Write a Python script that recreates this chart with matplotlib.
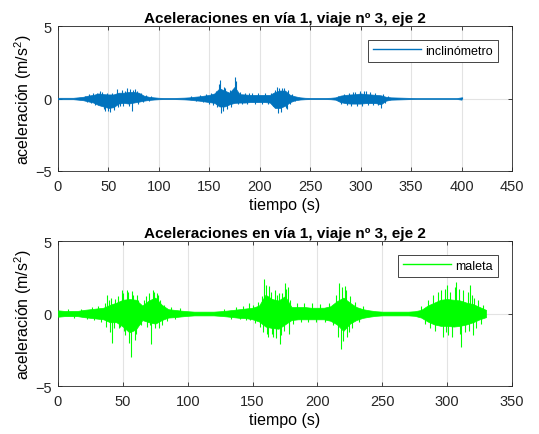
import numpy as np
import matplotlib
matplotlib.use('Agg')
import matplotlib.pyplot as plt
from matplotlib.lines import Line2D

plt.rcParams['font.family'] = ['Liberation Sans', 'DejaVu Sans']
plt.rcParams['mathtext.fontset'] = 'custom'
plt.rcParams['mathtext.rm'] = 'Liberation Sans'

TITLE = 'Aceleraciones en vía 1, viaje nº 3, eje 2'

# inclinometro: envelope every 5 s (upper / lower)
incTime = np.arange(0, 405, 5)
incHi = [0.05, 0.05, 0.05, 0.05, 0.08, 0.12, 0.20, 0.25, 0.35, 0.30,
         0.28, 0.28, 0.40, 0.40, 0.45, 0.45, 0.40, 0.20, 0.12, 0.08,
         0.05, 0.04, 0.04, 0.04, 0.05, 0.06, 0.08, 0.12, 0.15, 0.20,
         0.25, 0.35, 0.70, 0.55, 0.40, 0.80, 0.30, 0.28, 0.25, 0.25,
         0.25, 0.25, 0.25, 0.45, 0.55, 0.55, 0.25, 0.15, 0.08, 0.05,
         0.04, 0.04, 0.04, 0.04, 0.05, 0.08, 0.20, 0.25, 0.28, 0.30,
         0.35, 0.30, 0.28, 0.25, 0.22, 0.12, 0.08, 0.07, 0.06, 0.05,
         0.04, 0.03, 0.03, 0.03, 0.03, 0.03, 0.03, 0.03, 0.03, 0.03,
         0.08]
incLo = [-0.05, -0.05, -0.05, -0.05, -0.08, -0.12, -0.20, -0.28, -0.45, -0.55,
         -0.65, -0.60, -0.35, -0.30, -0.35, -0.28, -0.22, -0.15, -0.10, -0.07,
         -0.05, -0.04, -0.04, -0.04, -0.05, -0.06, -0.08, -0.12, -0.15, -0.20,
         -0.25, -0.30, -0.55, -0.55, -0.40, -0.30, -0.28, -0.28, -0.25, -0.25,
         -0.25, -0.25, -0.28, -0.65, -0.65, -0.50, -0.25, -0.12, -0.07, -0.05,
         -0.04, -0.04, -0.04, -0.04, -0.05, -0.08, -0.25, -0.32, -0.35, -0.35,
         -0.35, -0.32, -0.32, -0.32, -0.40, -0.15, -0.08, -0.07, -0.06, -0.05,
         -0.04, -0.03, -0.03, -0.03, -0.03, -0.03, -0.03, -0.03, -0.03, -0.03,
         -0.08]
# single peaks sticking out of the envelope (time, value)
incSpikeT = [27, 29, 31, 33, 35, 37, 39, 42, 44, 46, 47, 49, 50, 52, 54, 56,
             58, 59, 61, 63, 64, 66, 68, 70, 71, 73, 74, 76, 78, 79, 82, 84,
             87, 90, 92,
             132, 137, 141, 144, 147, 150, 152, 154, 157, 158, 160, 161, 162,
             164, 165, 166, 168, 170, 171, 173, 175, 176, 178, 180, 182, 185,
             187, 189, 192, 195, 198, 202, 205, 208, 211, 213, 215, 217, 218,
             219, 221, 222, 224, 226, 227, 228, 230, 232, 235,
             278, 281, 283, 286, 288, 290, 292, 294, 296, 299, 301, 303, 305,
             307, 309, 312, 314, 317, 320, 322, 324, 327, 400]
incSpikeV = [0.2, -0.22, 0.3, -0.3, 0.35, -0.45, 0.4, 0.55, 0.45, -0.75, -0.85,
             0.35, -0.85, -0.9, 0.4, -0.8, 0.65, -0.6, -0.5, 0.6, -0.5, 0.55,
             0.7, -0.5, 0.65, -0.87, 0.6, 0.65, 0.55, -0.4, 0.35, -0.25,
             0.25, -0.15, 0.15,
             0.15, -0.2, 0.22, -0.25, 0.3, -0.35, 0.4, -0.45, 0.55, -0.6, 1.0,
             1.3, -1.0, -0.85, 0.8, 0.75, -0.75, 0.6, -0.6, 0.5, 1.45, 1.2,
             -0.4, 0.45, -0.4, 0.35, -0.4, 0.4, 0.38, -0.35, 0.4, -0.35, 0.38,
             -0.35, 0.4, -0.5, 0.6, 0.8, -1.0, 0.75, -0.95, 0.7, 0.75, -0.65,
             -0.7, 0.6, -0.4, 0.3, -0.2,
             0.2, -0.35, 0.3, -0.45, 0.35, -0.5, 0.45, 0.45, -0.5, 0.55, -0.55,
             0.5, 0.5, -0.45, 0.42, -0.45, 0.35, -0.45, -0.65, 0.3, -0.3, 0.15,
             0.12]

# maleta: envelope every 5 s
malTime = np.arange(0, 335, 5)
malHi = [0.22, 0.18, 0.18, 0.18, 0.25, 0.30, 0.35, 0.40, 0.60, 0.75,
         0.95, 1.00, 0.95, 0.55, 0.90, 1.10, 0.60, 0.30, 0.25, 0.20,
         0.16, 0.13, 0.13, 0.13, 0.13, 0.16, 0.20, 0.25, 0.30, 0.35,
         0.40, 0.55, 1.30, 1.00, 0.90, 1.20, 0.45, 0.45, 0.45, 0.40,
         0.40, 0.40, 0.50, 0.85, 1.10, 0.75, 0.45, 0.30, 0.22, 0.16,
         0.13, 0.13, 0.13, 0.13, 0.13, 0.16, 0.25, 0.55, 0.75, 0.95,
         1.00, 0.95, 0.90, 0.75, 0.65, 0.45, 0.25]
malLo = [-0.22, -0.18, -0.18, -0.18, -0.25, -0.30, -0.35, -0.40, -0.60, -0.60,
         -0.90, -1.30, -1.10, -0.45, -0.60, -0.70, -0.45, -0.28, -0.25, -0.20,
         -0.16, -0.13, -0.13, -0.13, -0.13, -0.16, -0.20, -0.25, -0.30, -0.32,
         -0.40, -0.55, -0.90, -1.00, -1.05, -0.75, -0.45, -0.40, -0.40, -0.40,
         -0.40, -0.40, -0.50, -0.75, -1.20, -0.70, -0.45, -0.30, -0.22, -0.16,
         -0.13, -0.13, -0.13, -0.13, -0.13, -0.16, -0.28, -0.55, -0.75, -0.85,
         -0.85, -0.90, -0.85, -0.75, -0.60, -0.40, -0.25]
malSpikeT = [8, 12, 18, 22, 26, 28, 31, 33, 36, 37, 38, 39, 40, 41, 42, 43,
             44, 46, 47, 48, 49, 50, 51, 52, 53, 54, 55, 56, 57, 58, 59, 60,
             61, 62, 63, 64, 66, 68, 69, 70, 71, 72, 73, 74, 75, 76, 77, 78,
             79, 80, 82, 84, 87, 90, 94,
             128, 133, 137, 140, 143, 145, 147, 148, 150, 152, 154, 156, 157,
             158, 159, 160, 161, 162, 163, 164, 165, 166, 167, 168, 169, 170,
             171, 172, 173, 174, 175, 176, 177, 178, 179, 181, 184, 187, 190,
             193, 196, 199, 202, 206, 209, 212, 214, 216, 217, 218, 219, 220,
             221, 222, 223, 224, 225, 227, 229, 232, 235,
             280, 283, 285, 287, 289, 291, 293, 295, 297, 298, 299, 300, 301,
             302, 304, 306, 307, 309, 310, 311, 312, 314, 316, 317, 318, 319,
             320, 321, 322, 324, 326, 328]
malSpikeV = [0.3, -0.3, 0.3, -0.35, 0.45, -0.45, 0.55, -0.6, 0.7, -0.9, 1.3,
             0.9, -1.3, 1.1, -2.0, -1.0, 1.0, 1.2, -1.0, -0.9, 1.6, 1.4, -1.2,
             -1.5, 1.65, 1.5, -2.0, -3.0, 1.55, 1.3, -1.8, -1.4, 1.3, 0.9,
             -0.7, -0.8, 0.9, 1.2, -0.9, 1.4, -0.8, -2.1, 1.6, 1.5, -1.0, 1.45,
             1.3, -1.0, 0.9, -0.8, 0.6, -0.5, 0.45, -0.4, 0.35,
             0.3, -0.35, 0.45, -0.4, 0.5, -0.45, 0.7, -0.45, 0.6, -0.65, 0.8,
             -0.9, 1.2, -1.3, 2.4, 2.0, -1.4, -1.6, 1.9, 1.5, -1.4, -1.6, 1.6,
             -1.7, 1.3, 1.4, -2.1, -1.5, 1.4, -1.2, 2.1, 1.7, 1.8, -1.4, 0.9,
             -0.7, 0.7, -0.6, 0.75, -0.6, 0.7, -0.6, 0.65, -0.6, 0.7, -0.8, 1.3,
             -1.6, 2.1, -2.45, 1.8, -1.9, 1.9, 1.6, -1.6, -1.3, 1.2, -1.0, 0.8,
             -0.6, 0.5,
             0.5, -0.7, 0.9, -1.0, 1.3, -1.2, 1.5, 1.6, -1.6, 1.7, -1.3, 2.0,
             -1.5, 1.5, -1.6, 1.8, 2.2, 1.7, -1.4, -2.3, 1.6, -1.3, 1.5, -1.2,
             2.0, 1.3, -1.5, 1.1, -1.0, 0.9, -0.7, 0.6]


def drawSignal(ax, t, hi, lo, spikeT, spikeV, color, label, xmax):

    # dense signal drawn as its envelope plus the single peaks
    ax.fill_between(t, lo, hi, color=color, linewidth=0.5, zorder=3)
    ax.vlines(spikeT, 0, spikeV, color=color, linewidth=0.8, zorder=3)

    ax.set_xlim(0, xmax)
    ax.set_ylim(-5, 5)
    ax.set_xticks(np.arange(0, xmax + 1, 50))
    ax.set_yticks([-5, 0, 5])
    ax.grid(True, color='#e3e3e3', linewidth=0.8, zorder=0)
    ax.set_axisbelow(True)
    ax.tick_params(direction='in', top=True, right=True, labelsize=10.5,
                   length=3, width=0.6, color='#262626', labelcolor='#262626')
    ax.tick_params(axis='x', pad=5.5)
    ax.tick_params(axis='y', pad=4.5)
    for s in ax.spines.values():
        s.set_linewidth(0.6)
        s.set_color('#262626')

    ax.set_title(TITLE, fontsize=11, fontweight='bold', pad=3)
    ax.set_xlabel('tiempo (s)', fontsize=11.5, labelpad=3)
    ax.set_ylabel('aceleración (m/s$^2$)', fontsize=11.5, labelpad=1)

    handle = Line2D([], [], color=color, linewidth=1)
    leg = ax.legend([handle], [label], loc='upper right', fontsize=9,
                    fancybox=False, edgecolor='#262626', framealpha=1,
                    borderaxespad=1.1, handlelength=3.8, handletextpad=0.4)
    leg.get_frame().set_linewidth(0.6)


fig = plt.figure(figsize=(5.39, 4.35), dpi=100)
ax1 = fig.add_axes([0.1076, 0.6046, 0.8423, 0.3333])
ax2 = fig.add_axes([0.1076, 0.1103, 0.8423, 0.3333])

drawSignal(ax1, incTime, incHi, incLo, incSpikeT, incSpikeV, '#0072BD', 'inclinómetro', 450)
drawSignal(ax2, malTime, malHi, malLo, malSpikeT, malSpikeV, '#00FF00', 'maleta', 350)

fig.savefig('out.png', dpi=100)
